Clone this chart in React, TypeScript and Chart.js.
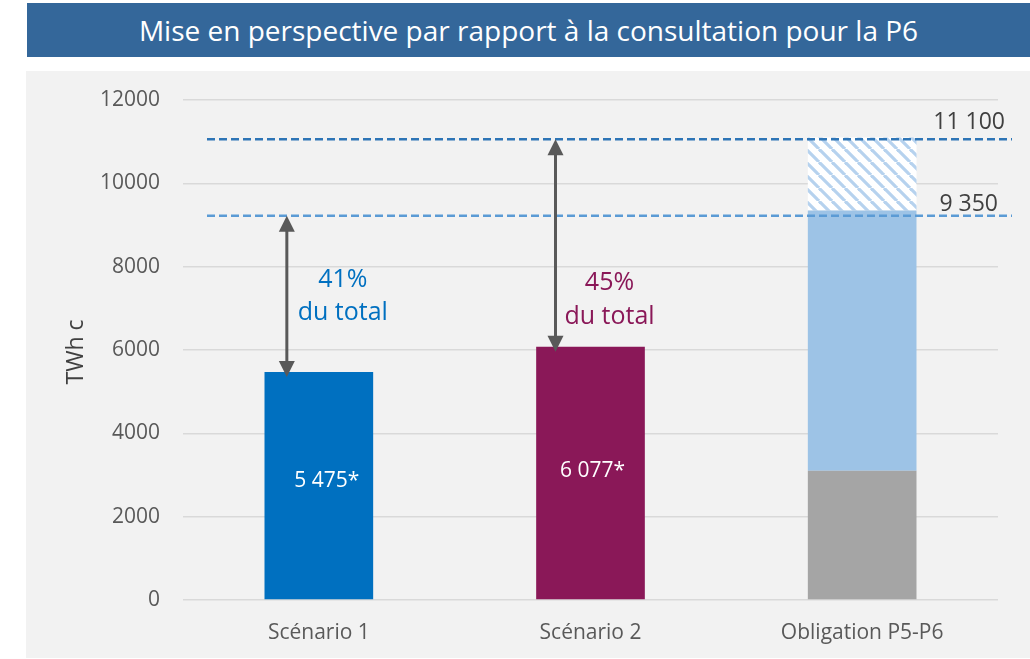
import React, { useEffect, useRef } from "react";
import { Chart, registerables } from "chart.js";

Chart.register(...registerables);

// ---- Data ----
const categories = ["Scénario 1", "Scénario 2", "Obligation P5-P6"];
const baseValues = [5475, 6077, 3100];
const baseColors = ["#0070C0", "#8A1858", "#A5A5A5"];
const complementValues = [null, null, 6250]; // 3100 -> 9350
const extraValues = [null, null, 1750]; // 9350 -> 11100
const valueLabels = ["5 475*", "6 077*", ""];
const refLineValues = [11060, 9220];
const refLineLabels = ["11 100", "9 350"];
const shareLabels = ["41%", "45%"];
const shareSubLabels = ["du total", "du total"];
const shareColors = ["#0070C0", "#8A1858"];
const yTickValues = [0, 2000, 4000, 6000, 8000, 10000, 12000];
const yAxisTitle = "TWh c";
const chartTitle = "Mise en perspective par rapport à la consultation pour la P6";

const FONT = '"Open Sans", "Noto Sans", sans-serif';

function makeHatch(): CanvasPattern | string {
  const p = 13;
  const c = document.createElement("canvas");
  c.width = p;
  c.height = p;
  const g = c.getContext("2d");
  if (!g) return "#ffffff";
  g.fillStyle = "#ffffff";
  g.fillRect(0, 0, p, p);
  g.strokeStyle = "#B6D2EE";
  g.lineWidth = 3.2;
  for (const k of [-p, 0, p]) {
    g.beginPath();
    g.moveTo(k, 0);
    g.lineTo(k + p, p);
    g.stroke();
  }
  const pat = g.createPattern(c, "repeat");
  return pat || "#ffffff";
}

function drawArrow(ctx: CanvasRenderingContext2D, x: number, yTop: number, yBot: number) {
  const hl = 16;
  const hw = 8;
  ctx.save();
  ctx.strokeStyle = "#595959";
  ctx.fillStyle = "#595959";
  ctx.lineWidth = 3;
  ctx.beginPath();
  ctx.moveTo(x, yTop + hl - 1);
  ctx.lineTo(x, yBot - hl + 1);
  ctx.stroke();
  ctx.beginPath();
  ctx.moveTo(x, yTop);
  ctx.lineTo(x - hw, yTop + hl);
  ctx.lineTo(x + hw, yTop + hl);
  ctx.closePath();
  ctx.fill();
  ctx.beginPath();
  ctx.moveTo(x, yBot);
  ctx.lineTo(x - hw, yBot - hl);
  ctx.lineTo(x + hw, yBot - hl);
  ctx.closePath();
  ctx.fill();
  ctx.restore();
}

const overlayPlugin = {
  id: "overlay",
  afterDatasetsDraw(chart: any) {
    const { ctx, chartArea, scales } = chart;
    const y = scales.y;
    const meta = chart.getDatasetMeta(0);
    const lineColors = ["#2E75B6", "#5B9BD5"];
    const labelDx = [7, 0];
    const labelDy = [-17, -11];

    // reference dashed lines
    refLineValues.forEach((v, i) => {
      const py = y.getPixelForValue(v);
      ctx.save();
      ctx.strokeStyle = lineColors[i];
      ctx.lineWidth = 2.5;
      ctx.setLineDash([8, 4]);
      ctx.beginPath();
      ctx.moveTo(chartArea.left + 24, py);
      ctx.lineTo(chartArea.right + 14, py);
      ctx.stroke();
      ctx.restore();
      ctx.save();
      ctx.fillStyle = "#404040";
      ctx.font = `23px ${FONT}`;
      ctx.textAlign = "right";
      ctx.textBaseline = "middle";
      ctx.fillText(refLineLabels[i], chartArea.right + labelDx[i], py + labelDy[i]);
      ctx.restore();
    });

    // arrows : scenario 1 from lower line, scenario 2 from upper line
    const arrowTargets = [refLineValues[1], refLineValues[0]];
    const arrowDx = [-32, -35];
    const textDx = [24, 19];
    const textDy = [[-92, -59], [-64, -30]];
    [0, 1].forEach((i) => {
      const bar = meta.data[i];
      const top = y.getPixelForValue(arrowTargets[i]);
      const bot = y.getPixelForValue(baseValues[i]) + 5;
      drawArrow(ctx, bar.x + arrowDx[i], top, bot);
      const barTop = y.getPixelForValue(baseValues[i]);
      ctx.save();
      ctx.fillStyle = shareColors[i];
      ctx.font = `25px ${FONT}`;
      ctx.textAlign = "center";
      ctx.textBaseline = "middle";
      ctx.fillText(shareLabels[i], bar.x + textDx[i], barTop + textDy[i][0]);
      ctx.fillText(shareSubLabels[i], bar.x + textDx[i], barTop + textDy[i][1]);
      ctx.restore();
    });

    // value labels inside bars
    const valDx = [8, 2];
    const valDy = [-5, -2];
    valueLabels.forEach((lab, i) => {
      if (!lab) return;
      const bar = meta.data[i];
      const mid = (bar.y + bar.base) / 2;
      ctx.save();
      ctx.fillStyle = "#FFFFFF";
      ctx.font = `21px ${FONT}`;
      ctx.textAlign = "center";
      ctx.textBaseline = "middle";
      ctx.fillText(lab, bar.x + valDx[i], mid + valDy[i]);
      ctx.restore();
    });

    // y axis title
    ctx.save();
    ctx.fillStyle = "#404040";
    ctx.font = `23px ${FONT}`;
    ctx.textAlign = "center";
    ctx.textBaseline = "middle";
    ctx.translate(50, (chartArea.top + chartArea.bottom) / 2 + 2);
    ctx.rotate(-Math.PI / 2);
    ctx.fillText(yAxisTitle, 0, 0);
    ctx.restore();
  },
};

export default function App() {
  const ref = useRef<HTMLCanvasElement | null>(null);

  useEffect(() => {
    if (!ref.current) return;
    const hatch = makeHatch();
    const chart = new Chart(ref.current, {
      type: "bar",
      data: {
        labels: categories,
        datasets: [
          {
            data: baseValues,
            backgroundColor: baseColors,
            borderWidth: 0,
            stack: "s",
          },
          {
            data: complementValues as any,
            backgroundColor: "#9DC3E6",
            borderWidth: 0,
            stack: "s",
          },
          {
            data: extraValues as any,
            backgroundColor: hatch as any,
            borderWidth: 0,
            stack: "s",
          },
        ],
      },
      options: {
        animation: false,
        responsive: false,
        devicePixelRatio: 1,
        datasets: {
          bar: { categoryPercentage: 1, barPercentage: 0.4 },
        },
        layout: { padding: { top: 29, right: 32, left: 0, bottom: 0 } },
        plugins: {
          legend: { display: false },
          tooltip: { enabled: false },
          title: { display: false },
        },
        scales: {
          x: {
            stacked: true,
            grid: { display: false, drawTicks: false },
            border: { display: false },
            ticks: {
              color: "#595959",
              font: { family: FONT, size: 21 },
              padding: 20,
            },
            afterFit: (s: any) => {
              s.height = 58;
            },
          },
          y: {
            stacked: true,
            min: 0,
            max: 12000,
            afterBuildTicks: (s: any) => {
              s.ticks = yTickValues.map((v) => ({ value: v }));
            },
            grid: { color: "#D9D9D9", lineWidth: 1.5, drawTicks: false },
            border: { display: false },
            ticks: {
              color: "#595959",
              font: { family: FONT, size: 21 },
              padding: 23,
              callback: (v: any) => String(v),
            },
            afterFit: (s: any) => {
              s.width = 157;
              s.paddingTop = 0;
              s.paddingBottom = 0;
            },
          },
        },
      },
      plugins: [overlayPlugin],
    });
    return () => chart.destroy();
  }, []);

  return (
    <div style={{ position: "absolute", left: 0, top: 0, width: 1030, height: 659, background: "#ffffff" }}>
      <div
        style={{
          position: "absolute",
          left: 27,
          top: 3,
          width: 1003,
          height: 54,
          background: "#34679A",
          color: "#ffffff",
          fontFamily: FONT,
          fontSize: 28,
          display: "flex",
          alignItems: "center",
          justifyContent: "center",
          whiteSpace: "nowrap",
        }}
      >
        {chartTitle}
      </div>
      <div
        style={{
          position: "absolute",
          left: 26,
          top: 71,
          width: 1004,
          height: 587,
          background: "#F2F2F2",
        }}
      >
        <canvas ref={ref} width={1004} height={587} style={{ width: 1004, height: 587, display: "block" }} />
      </div>
    </div>
  );
}
